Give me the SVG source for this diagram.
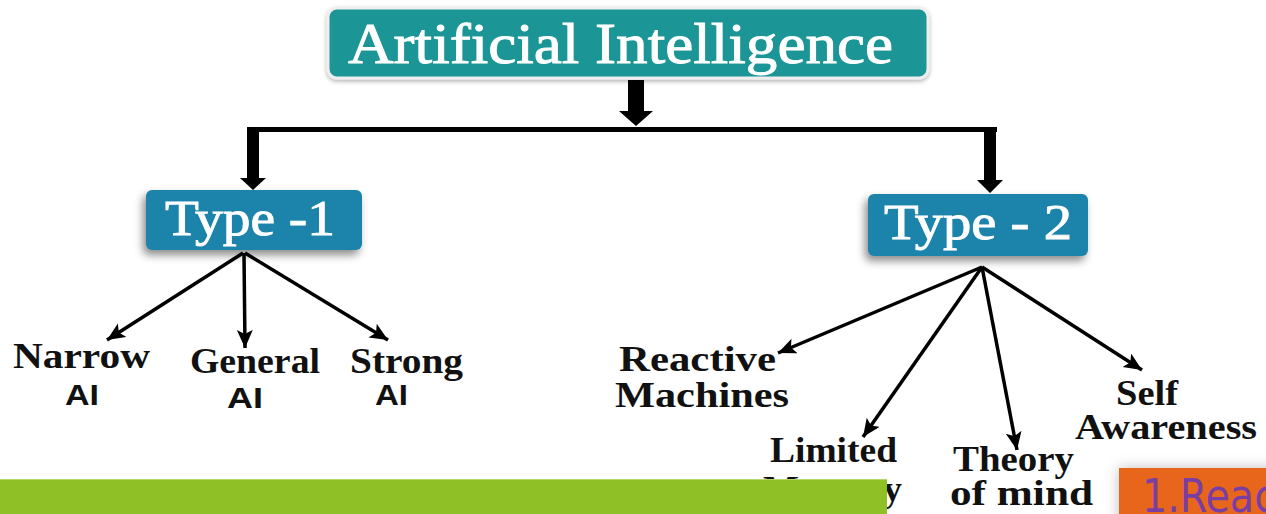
<svg xmlns="http://www.w3.org/2000/svg" width="1266" height="514" viewBox="0 0 1266 514">
  <defs>
    <style>
      .title{font-family:"Liberation Serif",serif;fill:#ffffff;stroke:#ffffff;stroke-width:0.9;}
      .lbl{font-family:"Liberation Serif",serif;font-weight:bold;font-size:36px;fill:#111111;}
      .ai{font-family:"Liberation Sans",Arial,sans-serif;font-weight:bold;font-size:30px;fill:#111111;}
      .thin{stroke:#000;stroke-width:3.5;fill:none;marker-end:url(#ah);}
      .thick{fill:#000;}
      .typebox{fill:#1b83aa;filter:url(#sh);}
    </style>
    <marker id="ah" markerUnits="userSpaceOnUse" markerWidth="20" markerHeight="18" refX="18" refY="8" orient="auto">
      <path d="M0,0 L18,8 L0,16 L4,8 Z" fill="#000"/>
    </marker>
    <filter id="sh" x="-20%" y="-30%" width="140%" height="170%">
      <feDropShadow dx="-3" dy="5" stdDeviation="4" flood-color="#000" flood-opacity="0.45"/>
    </filter>
    <filter id="sh2" x="-10%" y="-30%" width="120%" height="170%">
      <feDropShadow dx="0" dy="2" stdDeviation="2" flood-color="#000" flood-opacity="0.3"/>
    </filter>
    <filter id="glow" x="-30%" y="-50%" width="160%" height="200%">
      <feDropShadow dx="0" dy="0" stdDeviation="7" flood-color="#000" flood-opacity="0.25"/>
    </filter>
  </defs>

  <rect x="0" y="0" width="1266" height="514" fill="#ffffff"/>

  <g id="connectors">
    <polygon class="thick" points="628,80 644,80 644,111 653,111 636,126 619,111 628,111"/>
    <rect class="thick" x="247" y="127" width="750" height="5"/>
    <polygon class="thick" points="247,127 259,127 259,178 266,178 253,190 240,178 247,178"/>
    <polygon class="thick" points="984,127 996,127 996,180 1003,180 990,193 977,180 984,180"/>
    <line class="thin" x1="243" y1="253" x2="107" y2="340"/>
    <line class="thin" x1="244" y1="253" x2="245" y2="348"/>
    <line class="thin" x1="245" y1="253" x2="388" y2="340"/>
    <line class="thin" x1="982" y1="267" x2="778" y2="353"/>
    <line class="thin" x1="982" y1="267" x2="863" y2="437"/>
    <line class="thin" x1="982" y1="267" x2="1017" y2="450"/>
    <line class="thin" x1="982" y1="267" x2="1142" y2="370"/>
  </g>

  <g id="node-ai">
    <rect x="328" y="8" width="600" height="70" rx="9" fill="#1f9597" stroke="#eeeeee" stroke-width="3" filter="url(#sh2)"/>
    <text class="title" x="348" y="63" font-size="56" textLength="545" lengthAdjust="spacingAndGlyphs">Artificial Intelligence</text>
  </g>

  <g id="node-type1">
    <rect class="typebox" x="146" y="190" width="216" height="60" rx="6"/>
    <text class="title" x="165" y="235" font-size="50" textLength="170" lengthAdjust="spacingAndGlyphs">Type -1</text>
  </g>

  <g id="node-type2">
    <rect class="typebox" x="868" y="194" width="220" height="62" rx="6"/>
    <text class="title" x="884" y="239" font-size="50" textLength="188" lengthAdjust="spacingAndGlyphs">Type - 2</text>
  </g>

  <g id="node-narrow">
    <text class="lbl" x="13" y="368" textLength="137" lengthAdjust="spacingAndGlyphs">Narrow</text>
    <text class="ai" x="65" y="405" textLength="34" lengthAdjust="spacingAndGlyphs">AI</text>
  </g>
  <g id="node-general">
    <text class="lbl" x="190" y="373" textLength="130" lengthAdjust="spacingAndGlyphs">General</text>
    <text class="ai" x="227" y="408" textLength="36" lengthAdjust="spacingAndGlyphs">AI</text>
  </g>
  <g id="node-strong">
    <text class="lbl" x="350" y="373" textLength="113" lengthAdjust="spacingAndGlyphs">Strong</text>
    <text class="ai" x="375" y="405" textLength="33" lengthAdjust="spacingAndGlyphs">AI</text>
  </g>

  <g id="node-reactive">
    <text class="lbl" x="619" y="371" textLength="157" lengthAdjust="spacingAndGlyphs">Reactive</text>
    <text class="lbl" x="615" y="407" textLength="174" lengthAdjust="spacingAndGlyphs">Machines</text>
  </g>
  <g id="node-limited">
    <text class="lbl" x="770" y="462" textLength="127" lengthAdjust="spacingAndGlyphs">Limited</text>
    <text class="lbl" x="763" y="501" textLength="139" lengthAdjust="spacingAndGlyphs">Memory</text>
  </g>
  <g id="node-theory">
    <text class="lbl" x="953" y="471" textLength="121" lengthAdjust="spacingAndGlyphs">Theory</text>
    <text class="lbl" x="950" y="505" textLength="143" lengthAdjust="spacingAndGlyphs">of mind</text>
  </g>
  <g id="node-self">
    <text class="lbl" x="1116" y="405" textLength="62" lengthAdjust="spacingAndGlyphs">Self</text>
    <text class="lbl" x="1075" y="439" textLength="182" lengthAdjust="spacingAndGlyphs">Awareness</text>
  </g>

  <g id="green-bar">
    <rect x="0" y="479" width="887" height="35" fill="#8fc127"/>
    <line x1="0" y1="479.5" x2="887" y2="479.5" stroke="#b5d86a" stroke-width="1"/>
  </g>

  <g id="orange-box">
    <rect x="1119" y="468" width="160" height="60" fill="#e8661c" filter="url(#glow)"/>
    <text x="1142" y="512" font-family="'DejaVu Sans Condensed','Liberation Sans',sans-serif" font-size="46" fill="#7a3ea3" textLength="134" lengthAdjust="spacingAndGlyphs">1.Reac</text>
  </g>
</svg>
